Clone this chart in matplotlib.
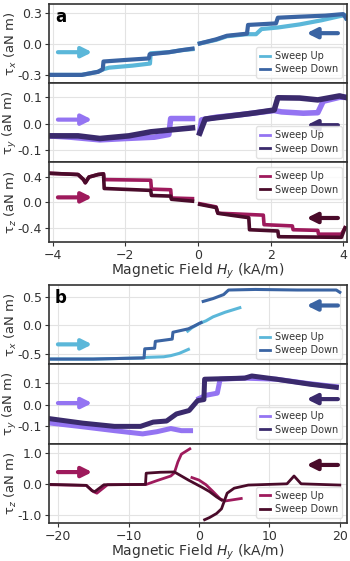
import numpy as np
import matplotlib
matplotlib.use('Agg')
import matplotlib.pyplot as plt

nan = np.nan

# ---- panel a (small field sweep) ----
a_tx_up_x = [-4.1, -3.2, -2.75, -2.6, -2.45, -1.8, -1.32, -1.30, -0.8, -0.45, -0.15, nan,
             0.05, 0.5, 0.8, 1.35, 1.6, 1.75, 2.2, 2.8, 3.4, 3.9, 4.05, 4.08]
a_tx_up_y = [-0.30, -0.30, -0.27, -0.245, -0.23, -0.21, -0.19, -0.09, -0.08, -0.06, -0.05, nan,
             0.005, 0.04, 0.075, 0.095, 0.095, 0.145, 0.16, 0.19, 0.23, 0.27, 0.28, 0.25]
a_tx_dn_x = [-4.1, -3.2, -2.75, -2.62, -2.6, -2.0, -1.35, -1.33, -0.8, -0.45, -0.15, nan,
             0.05, 0.5, 0.8, 1.35, 1.38, 1.9, 2.15, 2.2, 2.8, 3.5, 4.0, 4.08]
a_tx_dn_y = [-0.30, -0.30, -0.27, -0.245, -0.17, -0.155, -0.14, -0.10, -0.08, -0.06, -0.045, nan,
             0.005, 0.045, 0.08, 0.10, 0.185, 0.195, 0.20, 0.255, 0.265, 0.275, 0.29, 0.25]

a_ty_up_x = [-4.1, -3.5, -2.7, -2.0, -1.2, -0.8, -0.75, -0.15, nan,
             0.05, 0.1, 0.5, 1.2, 2.1, 2.3, 2.9, 3.3, 3.45, 3.9, 4.05]
a_ty_up_y = [-0.045, -0.05, -0.06, -0.055, -0.05, -0.04, 0.02, 0.02, nan,
             -0.03, 0.015, 0.025, 0.035, 0.05, 0.045, 0.04, 0.042, 0.085, 0.10, 0.10]
a_ty_dn_x = [-4.1, -3.3, -2.7, -1.9, -1.3, -0.7, -0.15, nan,
             0.05, 0.2, 0.8, 1.5, 2.1, 2.2, 2.8, 3.3, 3.9, 4.05]
a_ty_dn_y = [-0.045, -0.045, -0.055, -0.045, -0.03, -0.022, -0.015, nan,
             -0.035, 0.018, 0.028, 0.04, 0.052, 0.098, 0.097, 0.09, 0.105, 0.10]

a_tz_up_x = [-4.1, -3.3, -3.15, -3.1, -3.0, -2.75, -2.6, -2.58, -1.3, -1.28, -0.75, -0.73, -0.15, nan,
             0.05, 0.5, 0.55, 1.0, 1.8, 1.82, 2.6, 2.62, 3.3, 3.32, 3.95, 4.05]
a_tz_up_y = [0.46, 0.44, 0.36, 0.31, 0.40, 0.44, 0.45, 0.36, 0.35, 0.21, 0.20, 0.07, 0.06, nan,
             -0.02, -0.07, -0.17, -0.18, -0.20, -0.35, -0.37, -0.43, -0.44, -0.50, -0.50, -0.40]
a_tz_dn_x = [-4.1, -3.3, -3.15, -3.1, -3.0, -2.75, -2.6, -2.58, -1.3, -1.28, -0.75, -0.73, -0.15, nan,
             0.05, 0.5, 0.55, 0.9, 1.4, 1.42, 2.2, 2.22, 3.95, 4.05]
a_tz_dn_y = [0.46, 0.44, 0.36, 0.31, 0.40, 0.44, 0.45, 0.22, 0.19, 0.11, 0.10, 0.05, 0.02, nan,
             -0.03, -0.08, -0.17, -0.20, -0.24, -0.43, -0.45, -0.54, -0.55, -0.40]

# ---- panel b (large field sweep) ----
b_tx_up_x = [-21, -15, -8, -7.4, -5, -4, -2.8, -1.5, nan, -1.6, -1.0, 0.0, 1.0, 2.0, 3.7, 5.8]
b_tx_up_y = [-0.59, -0.59, -0.57, -0.56, -0.55, -0.53, -0.49, -0.42, nan, -0.10, -0.04, 0.03, 0.08, 0.15, 0.23, 0.31]
b_tx_dn_x = [-21, -15, -7.8, -7.7, -6.3, -6.2, -3.8, -3.7, -1.5, -0.5, 0.3, nan,
             0.6, 2.0, 3.5, 4.2, 8.0, 14, 19.5, 20]
b_tx_dn_y = [-0.59, -0.59, -0.57, -0.41, -0.40, -0.28, -0.24, -0.12, -0.06, 0.0, 0.05, nan,
             0.42, 0.47, 0.54, 0.62, 0.63, 0.62, 0.62, 0.58]

b_ty_up_x = [-21, -17, -12, -8, -6, -4, -2.5, -1.2, nan, 0.0, 1.0, 2.6, 3.0, 6.5, 11, 15.5, 19.5]
b_ty_up_y = [-0.085, -0.10, -0.12, -0.135, -0.125, -0.11, -0.12, -0.12, nan,
             0.03, 0.045, 0.055, 0.12, 0.125, 0.12, 0.10, 0.085]
b_ty_dn_x = [-21, -16.5, -12, -8.3, -6.5, -4.6, -3.2, -1.4, -0.2, 0.7, 0.8, 6.5, 7.5, 11, 15.7, 19.5]
b_ty_dn_y = [-0.065, -0.085, -0.10, -0.10, -0.08, -0.075, -0.042, -0.026, 0.02, 0.025, 0.12,
             0.125, 0.135, 0.12, 0.097, 0.082]

b_tz_up_x = [-21, -16, -15, -14.5, -13, -7.5, -6, -4, -3.5, -3.0, -2.5, -1.3, nan,
             -1.0, 0.0, 1.0, 2.0, 3.0, 3.7, 6.0]
b_tz_up_y = [-0.03, -0.05, -0.25, -0.3, -0.03, -0.02, 0.1, 0.25, 0.35, 0.7, 0.95, 1.12, nan,
             0.2, 0.12, -0.03, -0.25, -0.48, -0.55, -0.47]
b_tz_dn_x = [-21, -16, -15.2, -14.8, -13.5, -7.6, -7.5, -5.5, -3.5, -2.5, -1.5, -0.5, 0.5, 1.5, 2.5, 3.2, nan,
             0.8, 1.5, 2.5, 3.2, 3.6, 4.0, 5.0, 7.0, 12.5, 13.5, 14.5, 20]
b_tz_dn_y = [-0.02, -0.05, -0.22, -0.25, -0.03, -0.02, 0.34, 0.37, 0.38, 0.25, 0.12, 0.0, -0.12, -0.25, -0.42, -0.52, nan,
             -1.15, -1.08, -0.95, -0.8, -0.55, -0.3, -0.14, -0.04, 0.0, 0.25, 0.0, -0.04]

# tick labels
a_xticks = [-4, -2, 0, 2, 4]
b_xticks = [-20, -10, 0, 10, 20]
yticks = {
    'a_tx': [-0.3, 0.0, 0.3], 'a_ty': [-0.1, 0.0, 0.1], 'a_tz': [-0.4, 0.0, 0.4],
    'b_tx': [-0.5, 0.0, 0.5], 'b_ty': [-0.1, 0.0, 0.1], 'b_tz': [-1.0, 0.0, 1.0],
}

# colours (up, down)
c_tx = ('#5bb7d9', '#3a64a3')
c_ty = ('#9474f2', '#3a2a6c')
c_tz = ('#9e1a5c', '#4a0b2a')

txt = '#333333'
fig = plt.figure(figsize=(3.5, 5.61), dpi=100)

L, W = 0.14, 0.851
H = 0.1414


def style(ax, xlim, ylim, xt, yt, ylab, bottom):
    ax.set_xlim(xlim)
    ax.set_ylim(ylim)
    ax.set_xticks(xt)
    ax.set_yticks(yt)
    ax.set_yticklabels(['%.1f' % v for v in yt])
    ax.grid(True, color='#e3e3e3', lw=0.8)
    ax.set_axisbelow(True)
    for s in ax.spines.values():
        s.set_color('#333333')
        s.set_linewidth(1.2)
    ax.tick_params(labelsize=9, colors=txt, length=3, width=0.8, pad=2)
    if not bottom:
        ax.tick_params(labelbottom=False)
    ax.set_ylabel(ylab, fontsize=9.5, color=txt)
    ax.yaxis.set_label_coords(-0.1, 0.5)


def draw(ax, ux, uy, dx, dy, cols, loc, lw):
    ax.plot(ux, uy, color=cols[0], lw=lw, label='Sweep Up')
    ax.plot(dx, dy, color=cols[1], lw=lw, label='Sweep Down')
    leg = ax.legend(loc=loc, fontsize=7, handlelength=1.0, handletextpad=0.5,
                    borderpad=0.4, labelspacing=0.35, framealpha=0.85,
                    edgecolor='#dddddd', fancybox=True)
    for h in leg.get_lines():
        h.set_linewidth(2)
    for t in leg.get_texts():
        t.set_color(txt)


def arrows(ax, cols, yr, yl):
    ax.annotate('', xy=(0.145, yr), xytext=(0.03, yr), xycoords='axes fraction',
                arrowprops=dict(arrowstyle='-|>,head_width=0.3,head_length=0.6',
                                color=cols[0], lw=3, shrinkA=0, shrinkB=0))
    ax.annotate('', xy=(0.865, yl), xytext=(0.97, yl), xycoords='axes fraction',
                arrowprops=dict(arrowstyle='-|>,head_width=0.3,head_length=0.6',
                                color=cols[1], lw=3, shrinkA=0, shrinkB=0))


labs = ['τ$_x$ (aN m)', 'τ$_y$ (aN m)', 'τ$_z$ (aN m)']

# panel a
ax1 = fig.add_axes([L, 0.569 + 2 * H, W, H])
ax2 = fig.add_axes([L, 0.569 + H, W, H])
ax3 = fig.add_axes([L, 0.569, W, H])
draw(ax1, a_tx_up_x, a_tx_up_y, a_tx_dn_x, a_tx_dn_y, c_tx, 'lower right', 3.0)
draw(ax2, a_ty_up_x, a_ty_up_y, a_ty_dn_x, a_ty_dn_y, c_ty, 'lower right', 4.0)
draw(ax3, a_tz_up_x, a_tz_up_y, a_tz_dn_x, a_tz_dn_y, c_tz, 'upper right', 2.6)
style(ax1, (-4.1, 4.1), (-0.38, 0.39), a_xticks, yticks['a_tx'], labs[0], False)
style(ax2, (-4.1, 4.1), (-0.145, 0.153), a_xticks, yticks['a_ty'], labs[1], False)
style(ax3, (-4.1, 4.1), (-0.62, 0.63), a_xticks, yticks['a_tz'], labs[2], True)
arrows(ax1, c_tx, 0.39, 0.63)
arrows(ax2, c_ty, 0.54, 0.47)
arrows(ax3, c_tz, 0.56, 0.30)
ax3.set_xlabel('Magnetic Field $H_y$ (kA/m)', fontsize=10, color=txt, labelpad=0)
ax1.text(0.02, 0.84, 'a', transform=ax1.transAxes, fontsize=12, fontweight='bold', va='center')

# panel b
bx1 = fig.add_axes([L, 0.068 + 2 * H, W, H])
bx2 = fig.add_axes([L, 0.068 + H, W, H])
bx3 = fig.add_axes([L, 0.068, W, H])
draw(bx1, b_tx_up_x, b_tx_up_y, b_tx_dn_x, b_tx_dn_y, c_tx, 'lower right', 2.2)
draw(bx2, b_ty_up_x, b_ty_up_y, b_ty_dn_x, b_ty_dn_y, c_ty, 'lower right', 3.6)
draw(bx3, b_tz_up_x, b_tz_up_y, b_tz_dn_x, b_tz_dn_y, c_tz, 'lower right', 2.0)
style(bx1, (-21.3, 21), (-0.68, 0.71), b_xticks, yticks['b_tx'], labs[0], False)
style(bx2, (-21.3, 21), (-0.18, 0.19), b_xticks, yticks['b_ty'], labs[1], False)
style(bx3, (-21.3, 21), (-1.25, 1.29), b_xticks, yticks['b_tz'], labs[2], True)
arrows(bx1, c_tx, 0.25, 0.74)
arrows(bx2, c_ty, 0.51, 0.56)
arrows(bx3, c_tz, 0.64, 0.73)
bx3.set_xlabel('Magnetic Field $H_y$ (kA/m)', fontsize=10, color=txt, labelpad=0)
bx1.text(0.02, 0.84, 'b', transform=bx1.transAxes, fontsize=12, fontweight='bold', va='center')

plt.savefig('out.png', dpi=100)
